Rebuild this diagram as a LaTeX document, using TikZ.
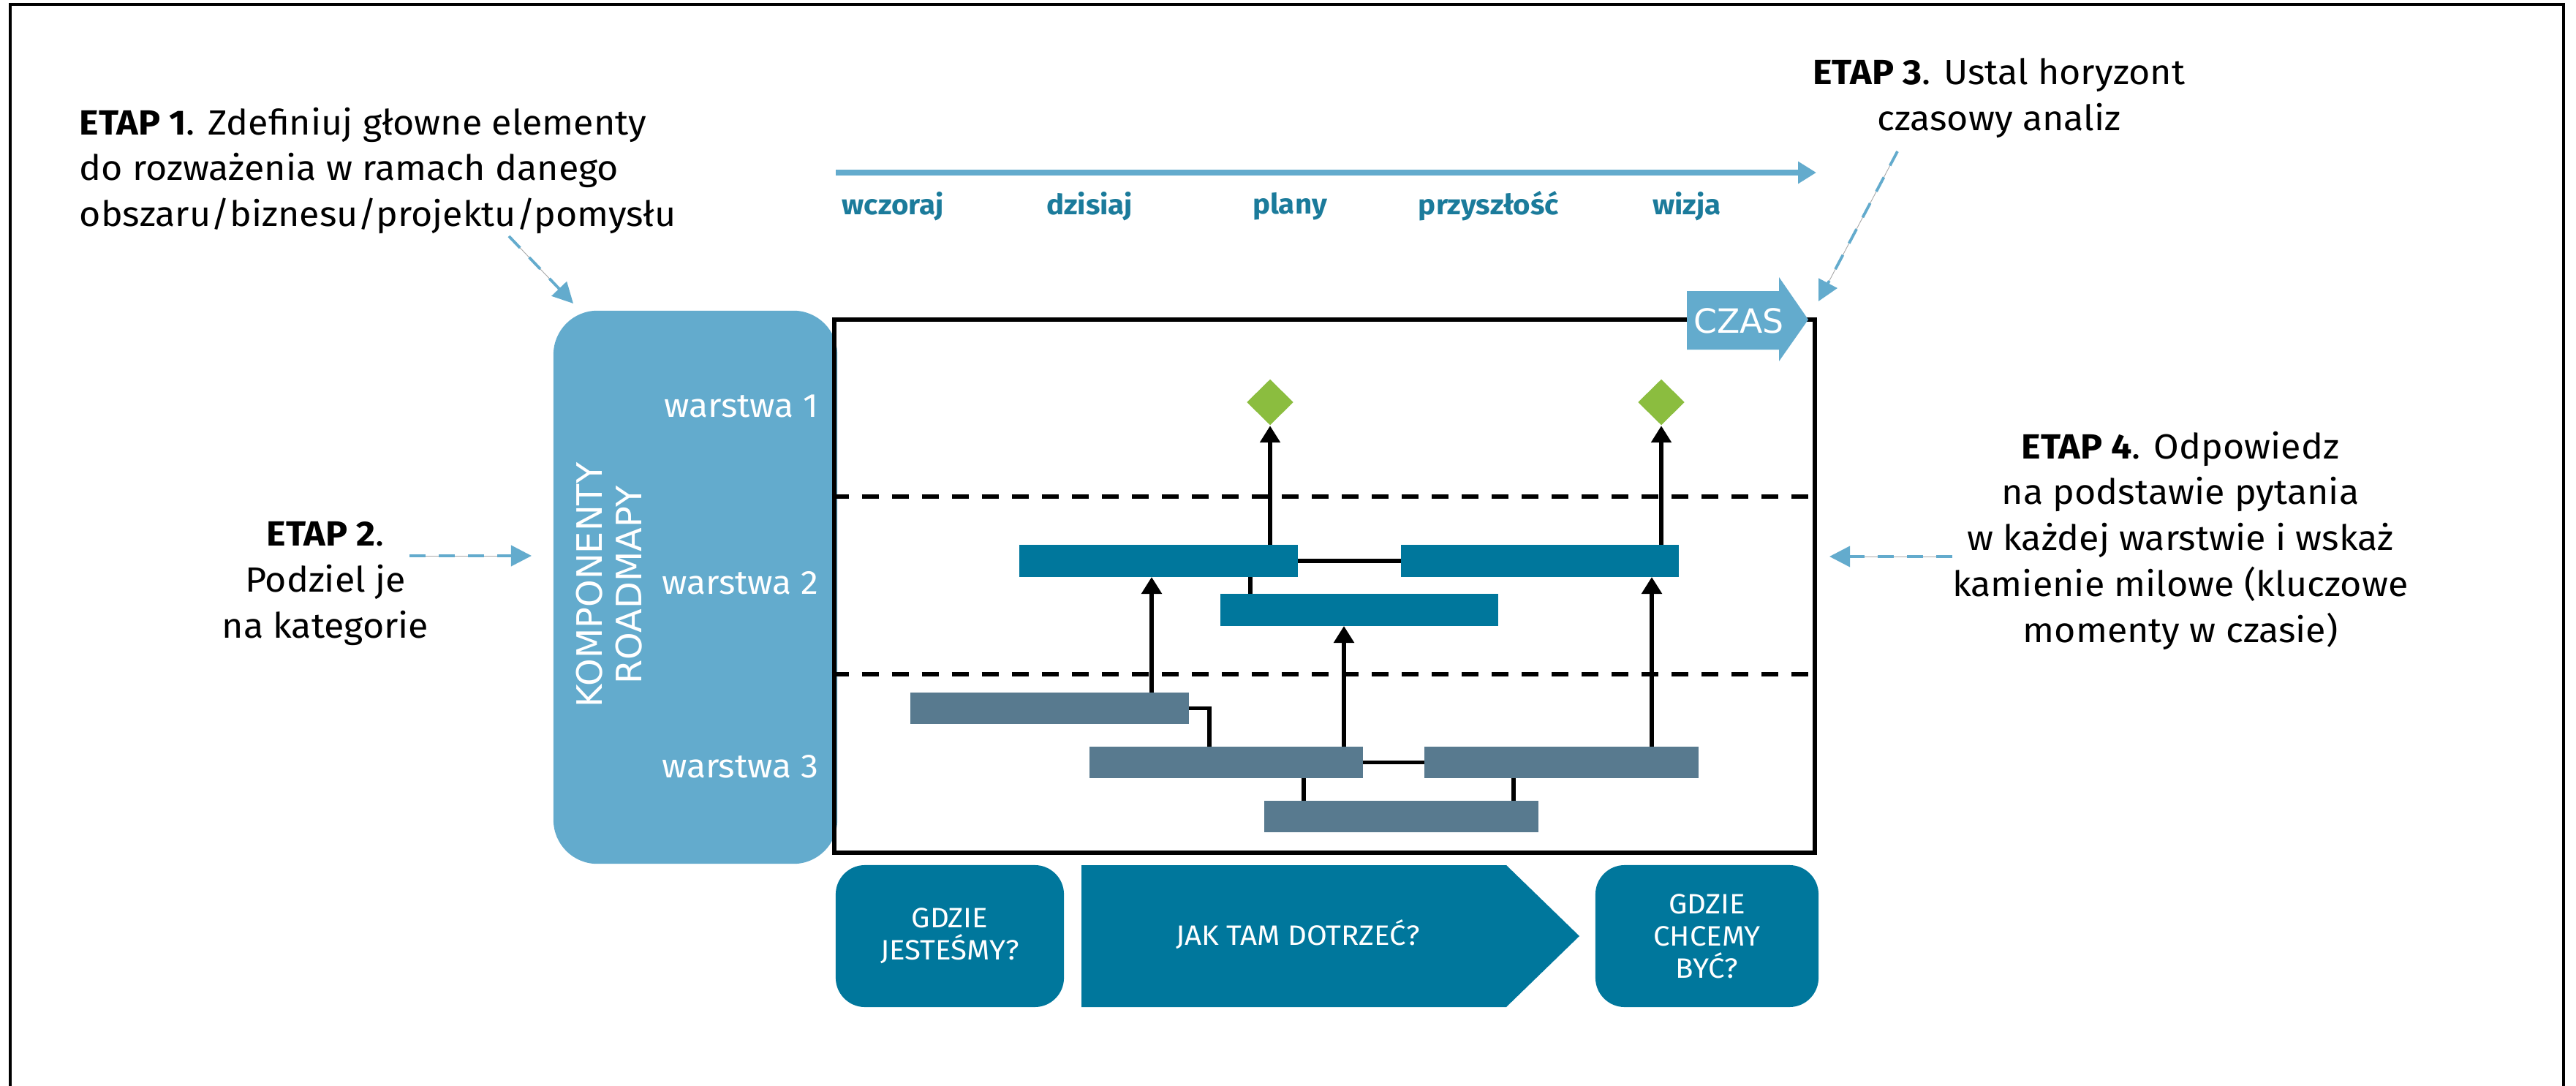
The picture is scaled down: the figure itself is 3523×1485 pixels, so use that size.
\documentclass[tikz,border=0pt]{standalone}
\usepackage{fontspec}
\setmainfont{Fira Sans}[FakeStretch=1.05]
\newfontfamily\widefont{DejaVu Sans}
\usetikzlibrary{arrows.meta,calc,shapes.geometric}
\definecolor{lblue}{HTML}{63ABCD}
\definecolor{dteal}{HTML}{00779C}
\definecolor{lteal}{HTML}{1B7B9B}
\definecolor{slate}{HTML}{587A8F}
\definecolor{mgreen}{HTML}{8BBD3F}
\begin{document}
\begin{tikzpicture}[x=0.01cm,y=-0.01cm,
  etap/.style={inner sep=0pt, font=\fontsize{13.6}{17.9}\selectfont, text=black},
  tlabel/.style={inner sep=0pt, font=\bfseries\fontsize{10.9}{12}\selectfont, text=lteal},
  wlabel/.style={inner sep=0pt, anchor=base east, font=\fontsize{13}{15}\selectfont, text=white},
  bar2/.style={rectangle, fill=dteal, inner sep=0pt, outer sep=0pt, minimum height=0.44cm},
  bar3/.style={rectangle, fill=slate, inner sep=0pt, outer sep=0pt, minimum height=0.43cm},
  mstone/.style={diamond, fill=mgreen, inner sep=0pt, minimum width=0.64cm, minimum height=0.63cm},
  lnk/.style={draw=black, line width=0.55mm},
  arr/.style={lnk, -{Triangle[length=2.3mm,width=2.7mm]}},
  dashline/.style={draw=black, line width=0.65mm, dash pattern=on 2.3mm off 1.8mm},
  hint/.style={draw=lblue, line width=0.38mm, dash pattern=on 2.2mm off 1.8mm,
    -{Triangle[length=2.8mm,width=2.8mm]},
    preaction={draw=gray!70, line width=0.25pt, solid, arrows=-, shorten >=2mm}},
  qbox/.style={rectangle, fill=dteal, rounded corners=4mm, inner sep=0pt, minimum height=1.94cm,
    align=center, text=white, font=\fontsize{10.9}{12.5}\selectfont},
  qtext/.style={inner sep=0pt, align=center, text=white, font=\fontsize{10.9}{12.5}\selectfont}
]
\useasboundingbox (0,0) rectangle (3523,1485);
\fill[white] (0,0) rectangle (3523,1485);
% outer frame
\draw[line width=0.45mm] (14,1500) -- (14,6) -- (3506,6) -- (3506,1500);

% step texts
\node[etap, anchor=north west, align=left] (s1) at (108,146)
  {\textbf{ETAP 1}. Zdefiniuj głowne elementy\\do rozważenia w ramach danego\\obszaru/biznesu/projektu/pomysłu};
\node[etap, anchor=north, align=center] (s3) at (2734,79)
  {\textbf{ETAP 3}. Ustal horyzont\\czasowy analiz};
\node[etap, anchor=north, align=center] (s2) at (445,713)
  {\textbf{ETAP 2}.\\Podziel je\\na kategorie};
\node[etap, anchor=north, align=center] (s4) at (2982,589)
  {\textbf{ETAP 4}. Odpowiedz\\na podstawie pytania\\w każdej warstwie i wskaż\\kamienie milowe (kluczowe\\momenty w czasie)};

% timeline
\coordinate (tl1) at (1143,236);
\coordinate (tl2) at (2484,236);
\draw[draw=lblue, line width=0.7mm, -{Triangle[length=2.5mm,width=2.9mm]}] (tl1) -- (tl2);
\node[tlabel] (t1) at (1221,282) {wczoraj};
\node[tlabel] (t2) at (1490,282) {dzisiaj};
\node[tlabel] (t3) at (1764,282) {plany};
\node[tlabel] (t4) at (2036,282) {przyszłość};
\node[tlabel] (t5) at (2307,282) {wizja};

% components box
\node[rectangle, fill=lblue, rounded corners=6mm, inner sep=0pt, minimum width=3.88cm, minimum height=7.56cm] (komp) at (951,803) {};
\node[rotate=90, align=center, inner sep=0pt, text=white,
  font=\widefont\fontsize{13.6}{15.4}\selectfont] (kt) at (833,800) {KOMPONENTY\\ROADMAPY};
\node[wlabel] (w1) at (1120,570) {warstwa 1};
\node[wlabel] (w2) at (1120,812) {warstwa 2};
\node[wlabel] (w3) at (1120,1063) {warstwa 3};

% main box
\node[draw=black, line width=0.6mm, inner sep=0pt, minimum width=13.41cm, minimum height=7.29cm] (main) at (1811.5,801.5) {};
\draw[dashline] (main.west |- 0,679) -- (main.east |- 0,679);
\draw[dashline] (main.west |- 0,922) -- (main.east |- 0,922);

% CZAS arrow
\fill[lblue] (2307,398) -- (2433,398) -- (2433,379) -- (2473,437) -- (2433,494) -- (2433,478) -- (2307,478) -- cycle;
\node[inner sep=0pt, text=white, font=\widefont\fontsize{13}{15}\selectfont] (czas) at (2378,439) {CZAS};

% bars
\node[bar2, minimum width=3.81cm] (A) at (1584.5,767) {};
\node[bar2, minimum width=3.80cm] (B) at (1859,834) {};
\node[bar2, minimum width=3.80cm] (C) at (2106,767) {};
\node[bar3, minimum width=3.81cm] (D) at (1435.5,968.5) {};
\node[bar3, minimum width=3.74cm] (E) at (1677,1042.5) {};
\node[bar3, minimum width=3.75cm] (F) at (2135.5,1042.5) {};
\node[bar3, minimum width=3.75cm] (G) at (1916.5,1116.5) {};

% milestones
\node[mstone] (M1) at (1737,550) {};
\node[mstone] (M2) at (2272,550) {};

% plain links
\draw[lnk] (A.east) -- (C.west);
\draw[lnk] (A.south -| 1710,0) -- (B.north -| 1710,0);
\draw[lnk] (D.east) -- (D.east -| 1654,0) -- (E.north -| 1654,0);
\draw[lnk] (E.east) -- (F.west);
\draw[lnk] (E.south -| 1783,0) -- (G.north -| 1783,0);
\draw[lnk] (F.south -| 2070,0) -- (G.north -| 2070,0);

% arrows
\draw[arr] (D.north -| 1575,0) -- (A.south -| 1575,0);
\draw[arr] (E.north -| 1838,0) -- (B.south -| 1838,0);
\draw[arr] (F.north -| 2259,0) -- (C.south -| 2259,0);
\draw[arr] (A.north -| M1) -- (M1.south);
\draw[arr] (C.north -| M2) -- (M2.south);

% bottom questions
\node[qbox, minimum width=3.12cm] (q1) at (1299,1280) {GDZIE\\JESTEŚMY?};
\fill[dteal] (1479,1183) -- (2060,1183) -- (2160,1280) -- (2060,1377) -- (1479,1377) -- cycle;
\node[qtext] (q2) at (1775,1278) {JAK TAM DOTRZEĆ?};
\node[qbox, minimum width=3.05cm] (q3) at (2334.5,1280) {GDZIE\\CHCEMY\\BYĆ?};

% hint arrows
\coordinate (e1a) at (696,323);
\coordinate (e1b) at (784,415);
\coordinate (e3a) at (2595,207);
\coordinate (e3b) at (2487,412);
\coordinate (e2a) at (560,760);
\coordinate (e2b) at (727,760);
\coordinate (e4a) at (2670,761);
\coordinate (e4b) at (2502,761);
\draw[hint] (e1a) -- (e1b);
\draw[hint] (e3a) -- (e3b);
\draw[hint] (e2a) -- (e2b);
\draw[hint] (e4a) -- (e4b);
\end{tikzpicture}
\end{document}
